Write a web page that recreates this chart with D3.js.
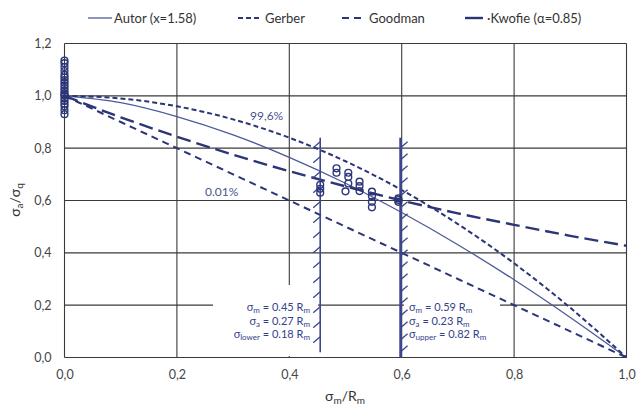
<!DOCTYPE html>
<html><head><meta charset="utf-8">
<script src="https://cdn.jsdelivr.net/npm/d3@7"></script>
<style>body{margin:0;background:#fff}svg{display:block}text{font-family:Lato,"Open Sans",sans-serif}</style>
</head><body><div id="c"></div>
<script>
// ---- data ----
const xGrid = [0,0.1,0.2,0.3,0.4,0.5,0.6,0.7,0.8,0.9,1.0];
const autor   = [1,0.974,0.921,0.851,0.765,0.666,0.554,0.431,0.297,0.153,0];
const gerber  = [1,0.99,0.96,0.91,0.84,0.75,0.64,0.51,0.36,0.19,0];
const goodman = [1,0.9,0.8,0.7,0.6,0.5,0.4,0.3,0.2,0.1,0];
const kwofie  = [1,0.918,0.844,0.775,0.712,0.654,0.600,0.551,0.507,0.465,0.427];
const pointsX = [0,0,0,0,0,0,0,0,0,0,0,0,0,0,0,0,0,0,0,0,
  0.455,0.455,0.455,0.484,0.484,0.505,0.505,0.505,0.5,0.525,0.525,0.525,0.547,0.547,0.547,0.547,0.594,0.594,0.594];
const pointsY = [0.93,0.945,0.96,0.97,0.98,0.99,1.0,1.005,1.01,1.02,1.03,1.04,1.05,1.06,1.07,1.08,1.095,1.11,1.125,1.135,
  0.66,0.645,0.63,0.723,0.706,0.706,0.69,0.665,0.635,0.672,0.655,0.636,0.634,0.617,0.595,0.574,0.608,0.602,0.595];
const xTicks = [0,0.2,0.4,0.6,0.8,1.0];
const yTicks = [0,0.2,0.4,0.6,0.8,1.0,1.2];
const limitX = [0.455, 0.598];
const limitTop = [0.84, 0.84];
const limitBottom = [0.02, 0.0];
const leftNotes = [["m"," = 0.45 R"],["a"," = 0.27 R"],["lower"," = 0.18 R"]];
const rightNotes = [["m"," = 0.59 R"],["a"," = 0.23 R"],["upper"," = 0.82 R"]];
const legendNames = ["Autor (x=1.58)","Gerber","Goodman","\u00B7Kwofie (\u03B1=0.85)"];

// ---- layout ----
const W=642,H=410, L=64.5,R=626.5,T=43.5,B=357.5;
const svg=d3.select("#c").append("svg").attr("width",W).attr("height",H);
const x=d3.scaleLinear().domain([0,1]).range([L,R]);
const y=d3.scaleLinear().domain([0,1.2]).range([B,T]);
const fmt=d=>d3.format(".1f")(d).replace(".",",");
const navy="#2b3577", gridC="#3a3a3a";

// grid
const g=svg.append("g");
g.selectAll("line.v").data(xTicks).join("line").attr("x1",d=>x(d)).attr("x2",d=>x(d)).attr("y1",T).attr("y2",B).attr("stroke",gridC).attr("stroke-width",1.1);
g.selectAll("line.h").data(yTicks).join("line").attr("y1",d=>y(d)).attr("y2",d=>y(d)).attr("x1",L).attr("x2",R).attr("stroke",gridC).attr("stroke-width",1.1);

// axes labels
const xa=svg.append("g").attr("transform",`translate(0,${B})`).call(d3.axisBottom(x).tickValues(xTicks).tickSize(0).tickPadding(13).tickFormat(fmt));
const ya=svg.append("g").attr("transform",`translate(${L},0)`).call(d3.axisLeft(y).tickValues(yTicks).tickSize(0).tickPadding(13).tickFormat(fmt));
[xa,ya].forEach(a=>{a.select(".domain").remove();a.selectAll("text").attr("font-size",12.5).attr("fill","#454545").attr("font-family","Lato,sans-serif");});

// annotation boxes (white)
svg.append("rect").attr("x",213).attr("y",285).attr("width",105).attr("height",71).attr("fill","#fff");
svg.append("rect").attr("x",404).attr("y",285).attr("width",96).attr("height",71).attr("fill","#fff");

// curves
const series=[
 {v:autor, dash:null, w:1.3, c:"#4b5a98"},
 {v:gerber, dash:"5,3", w:2, c:navy},
 {v:goodman, dash:"7,5", w:2, c:navy},
 {v:kwofie, dash:"14,6", w:2.4, c:navy}
];
const line=d3.line().x((d,i)=>x(xGrid[i])).y(d=>y(d)).curve(d3.curveMonotoneX);
series.forEach(s=>{
  svg.append("path").attr("d",line(s.v)).attr("fill","none").attr("stroke",s.c).attr("stroke-width",s.w).attr("stroke-dasharray",s.dash);
});

// limit lines with hatches
limitX.forEach((lx,i)=>{
  const px=x(lx), side=i===0?-1:1, step=i===0?15:12;
  const top=y(limitTop[i]), bot=y(limitBottom[i]);
  svg.append("line").attr("x1",px).attr("x2",px).attr("y1",top).attr("y2",bot).attr("stroke","#3a4690").attr("stroke-width",i===0?1.6:2.6);
  const ys=d3.range(top+4,bot-2,step);
  svg.selectAll(null).data(ys).join("line")
    .attr("x1",px).attr("y1",d=>side<0?d:d+6)
    .attr("x2",px+side*7).attr("y2",d=>side<0?d+6:d)
    .attr("stroke","#3a4690").attr("stroke-width",1.3);
});

// points
svg.selectAll("circle").data(pointsX).join("circle")
  .attr("cx",d=>x(d)).attr("cy",(d,i)=>y(pointsY[i])).attr("r",3.4)
  .attr("fill","none").attr("stroke",navy).attr("stroke-width",1.4);

// notes
function note(arr,xpos,anchor){
  arr.forEach((n,i)=>{
    const t=svg.append("text").attr("x",xpos).attr("y",311+i*13.5).attr("font-size",11).attr("fill","#34428a").attr("text-anchor",anchor);
    t.append("tspan").text("\u03C3");
    t.append("tspan").attr("font-size",8).attr("dy",2).text(n[0]);
    t.append("tspan").attr("dy",-2).text(n[1]);
    t.append("tspan").attr("font-size",8).attr("dy",2).text("m");
  });
}
note(leftNotes,310,"end");
note(rightNotes,409,"start");

// percent labels
svg.append("text").attr("x",250).attr("y",120).attr("font-size",12).attr("fill","#4a5590").text("99,6%");
svg.append("text").attr("x",205).attr("y",196).attr("font-size",12).attr("fill","#4a5590").text("0.01%");

// axis titles
const xt=svg.append("text").attr("x",345).attr("y",401).attr("text-anchor","middle").attr("font-size",14).attr("fill","#333");
xt.append("tspan").text("\u03C3");xt.append("tspan").attr("font-size",10).attr("dy",3).text("m");
xt.append("tspan").attr("dy",-3).text("/R");xt.append("tspan").attr("font-size",10).attr("dy",3).text("m");
const yt=svg.append("text").attr("transform","translate(20,200) rotate(-90)").attr("text-anchor","middle").attr("font-size",14).attr("fill","#333");
yt.append("tspan").text("\u03C3");yt.append("tspan").attr("font-size",10).attr("dy",3).text("a");
yt.append("tspan").attr("dy",-3).text("/\u03C3");yt.append("tspan").attr("font-size",10).attr("dy",3).text("q");

// legend
const legX=[88,238,342,465], legLen=[24,24,24,18];
const legDash=[null,"5,3","7,5",null], legW=[1.3,2,2,2.4], legC=["#4b5a98",navy,navy,navy], legGap=[2,3,3,4];
legendNames.forEach((n,i)=>{
  svg.append("line").attr("x1",legX[i]).attr("x2",legX[i]+legLen[i]).attr("y1",18).attr("y2",18)
    .attr("stroke",legC[i]).attr("stroke-width",legW[i]).attr("stroke-dasharray",legDash[i]);
  svg.append("text").attr("x",legX[i]+legLen[i]+legGap[i]).attr("y",22.5).attr("font-size",13).attr("fill","#333").text(n);
});
</script></body></html>
